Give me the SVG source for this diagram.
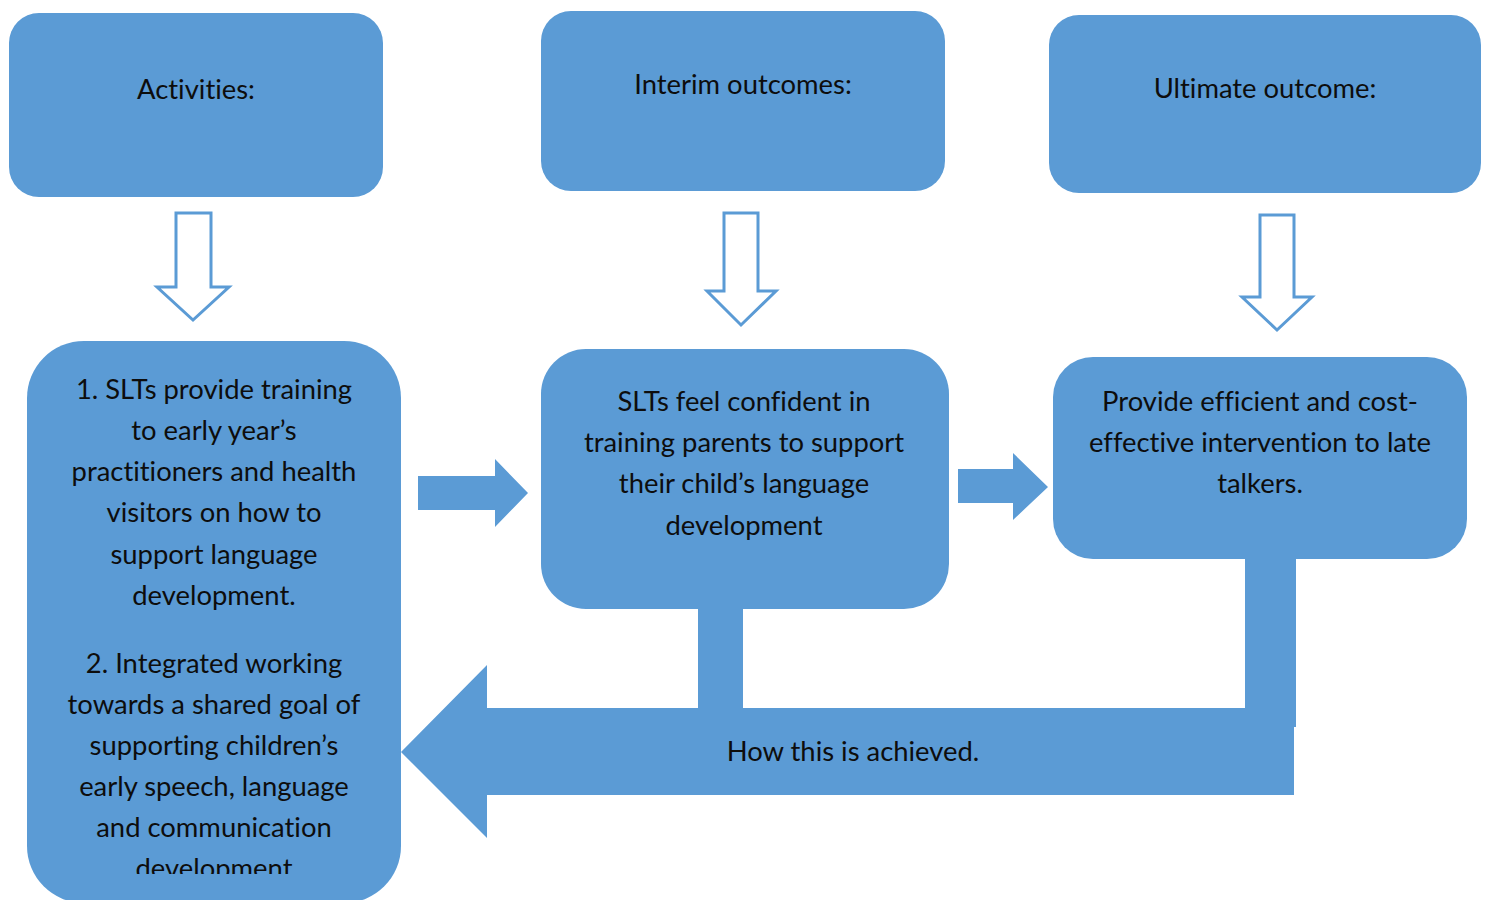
<svg xmlns="http://www.w3.org/2000/svg" width="1488" height="900" viewBox="0 0 1488 900">
  <style>
    .box { fill: #5b9bd5; }
    .solid { fill: #5b9bd5; }
    .hollow { fill: #ffffff; stroke: #5b9bd5; stroke-width: 3; stroke-linejoin: miter; }
    text { font-family: Lato, "Open Sans", "Liberation Sans", sans-serif; font-size: 27.4px; fill: #0d0d0d; text-anchor: middle; font-variant-ligatures: none; }
  </style>
  <defs>
    <clipPath id="leftClip">
      <rect x="27" y="341" width="374" height="533"/>
    </clipPath>
  </defs>
  <rect width="1488" height="900" fill="#ffffff"/>

  <!-- header boxes -->
  <g id="activities">
    <rect class="box" x="9" y="13" width="374" height="184" rx="30"/>
    <text x="196" y="99">Activities:</text>
  </g>
  <g id="interim">
    <rect class="box" x="541" y="11" width="404" height="180" rx="30"/>
    <text x="743" y="94">Interim outcomes:</text>
  </g>
  <g id="ultimate">
    <rect class="box" x="1049" y="15" width="432" height="178" rx="30"/>
    <text x="1265" y="98">Ultimate outcome:</text>
  </g>

  <!-- connectors -->
  <g id="connectors">
    <!-- hollow down arrows -->
    <polygon class="hollow" points="176,213 211,213 211,287 229,287 193,320 157,287 176,287"/>
    <polygon class="hollow" points="724,213 758,213 758,291 776,291 741,325 707,291 724,291"/>
    <polygon class="hollow" points="1260,215 1294,215 1294,297 1312,297 1277,330 1242,297 1260,297"/>
    <!-- solid right arrows -->
    <polygon class="solid" points="418,476 495,476 495,459 528,493 495,527 495,510 418,510"/>
    <polygon class="solid" points="958,469 1013,469 1013,453 1048,487 1013,520 1013,503 958,503"/>
    <!-- feedback arrow -->
    <rect class="solid" x="698" y="600" width="45" height="115"/>
    <rect class="solid" x="1245" y="550" width="51" height="177"/>
    <polygon class="solid" points="401,752 487,665 487,708 1294,708 1294,795 487,795 487,838"/>
  </g>

  <g id="activity-list">
    <rect class="box" x="27" y="341" width="374" height="562" rx="57"/>
    <g clip-path="url(#leftClip)">
      <text x="214" y="399">1. SLTs provide training</text>
      <text x="214" y="440">to early year’s</text>
      <text x="214" y="481">practitioners and health</text>
      <text x="214" y="522">visitors on how to</text>
      <text x="214" y="564">support language</text>
      <text x="214" y="605">development.</text>
      <text x="214" y="673">2. Integrated working</text>
      <text x="214" y="714">towards a shared goal of</text>
      <text x="214" y="755">supporting children’s</text>
      <text x="214" y="796">early speech, language</text>
      <text x="214" y="837">and communication</text>
      <text x="214" y="878">development</text>
    </g>
  </g>

  <g id="interim-detail">
    <rect class="box" x="541" y="349" width="408" height="260" rx="45"/>
    <text x="744" y="411">SLTs feel confident in</text>
    <text x="744" y="452">training parents to support</text>
    <text x="744" y="493">their child’s language</text>
    <text x="744" y="535">development</text>
  </g>

  <g id="ultimate-detail">
    <rect class="box" x="1053" y="357" width="414" height="202" rx="40"/>
    <text x="1260" y="411">Provide efficient and cost-</text>
    <text x="1260" y="452">effective intervention to late</text>
    <text x="1260" y="493">talkers.</text>
  </g>

  <text x="853" y="761">How this is achieved.</text>
</svg>
